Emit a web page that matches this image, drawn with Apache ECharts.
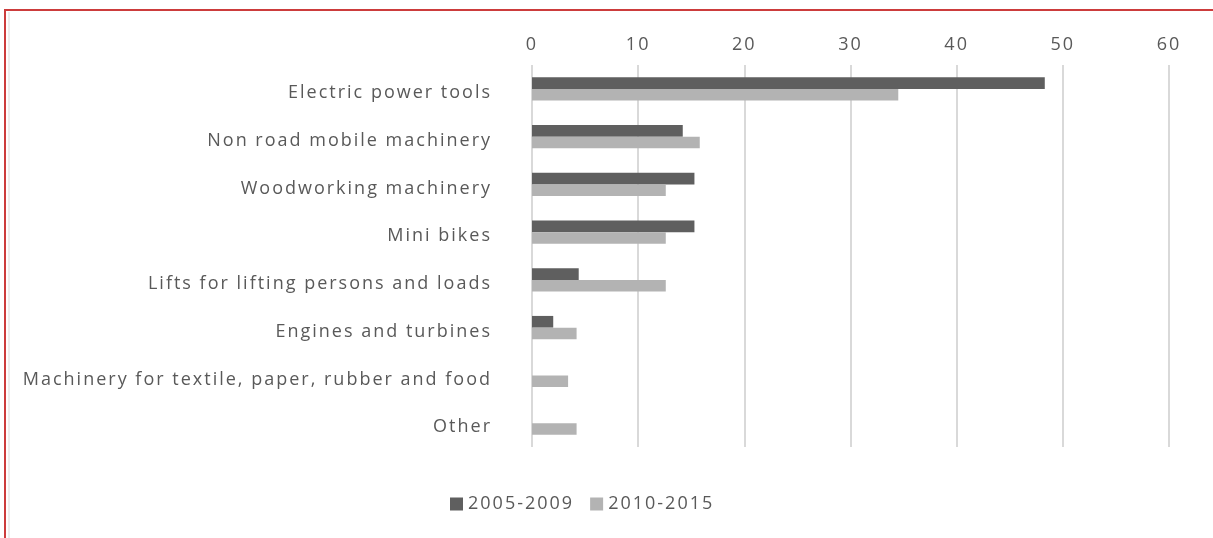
<!DOCTYPE html>
<html>
<head>
<meta charset="utf-8">
<script src="https://cdn.jsdelivr.net/npm/echarts@6/dist/echarts.min.js"></script>
<style>
html,body{margin:0;padding:0;background:#fff;}
#chart{width:1213px;height:538px;}
</style>
</head>
<body>
<div id="chart"></div>
<script>
const categories = [
  "Electric power tools",
  "Non road mobile machinery",
  "Woodworking machinery",
  "Mini bikes",
  "Lifts for lifting persons and loads",
  "Engines and turbines",
  "Machinery for textile, paper, rubber and food",
  "Other"
];
const seriesNames = ["2005-2009", "2010-2015"];
const values2005_2009 = [48.3, 14.2, 15.3, 15.3, 4.4, 2.0, null, null];
const values2010_2015 = [34.5, 15.8, 12.6, 12.6, 12.6, 4.2, 3.4, 4.2];
const xTicks = { min: 0, max: 60, interval: 10 };

// Tracked (letter-spaced) text, as in the reference
const LS = '2px';
const mcv = document.createElement('canvas');
const mctx = mcv.getContext('2d');
echarts.setPlatformAPI({
  measureText: function (text, font) {
    mctx.font = font;
    mctx.letterSpacing = LS;
    return mctx.measureText(text);
  }
});
const origFillText = CanvasRenderingContext2D.prototype.fillText;
CanvasRenderingContext2D.prototype.fillText = function (t, x, y, m) {
  this.letterSpacing = LS;
  return m === undefined ? origFillText.call(this, t, x, y) : origFillText.call(this, t, x, y, m);
};

const el = document.getElementById('chart');
const chart = echarts.init(el, null, { renderer: 'canvas' });

const txt = '#595959';
chart.setOption({
  animation: false,
  backgroundColor: '#ffffff',
  textStyle: { fontFamily: 'Open Sans' },
  graphic: [
    { type: 'rect', shape: { x: 5, y: 10, width: 1300, height: 600 }, style: { fill: 'none', stroke: '#cc3c3c', lineWidth: 2 }, silent: true },
    { type: 'line', shape: { x1: 9, y1: 12, x2: 9, y2: 538 }, style: { stroke: '#d9d9d9', lineWidth: 1 }, silent: true }
  ],
  grid: { left: 532, right: 44, top: 65, bottom: 91, containLabel: false, outerBoundsMode: 'none' },
  legend: {
    data: seriesNames,
    bottom: 19,
    left: 445,
    itemWidth: 13, itemHeight: 13, itemGap: 16,
    icon: 'rect',
    textStyle: { color: txt, fontSize: 18, fontFamily: 'Open Sans' }
  },
  xAxis: {
    type: 'value',
    position: 'top',
    min: xTicks.min, max: xTicks.max, interval: xTicks.interval,
    axisLine: { show: false },
    axisTick: { show: false },
    axisLabel: { color: txt, fontSize: 18, margin: 10 },
    splitLine: { show: true, lineStyle: { color: '#d9d9d9', width: 2 } }
  },
  yAxis: {
    type: 'category',
    data: categories,
    inverse: true,
    axisLine: { show: false },
    axisTick: { show: false },
    axisLabel: {
      color: txt, fontSize: 18, margin: 40,
      formatter: v => '{a|' + v + '}',
      rich: { a: { color: txt, fontSize: 18, fontFamily: 'Open Sans', padding: [8, 0, 0, 0] } }
    }
  },
  series: [
    { name: seriesNames[0], type: 'bar', data: values2005_2009, barGap: '0%', barCategoryGap: '51%',
      itemStyle: { color: '#5f5f5f' } },
    { name: seriesNames[1], type: 'bar', data: values2010_2015, barGap: '0%', barCategoryGap: '51%',
      itemStyle: { color: '#b3b3b3' } }
  ]
});
</script>
</body>
</html>
